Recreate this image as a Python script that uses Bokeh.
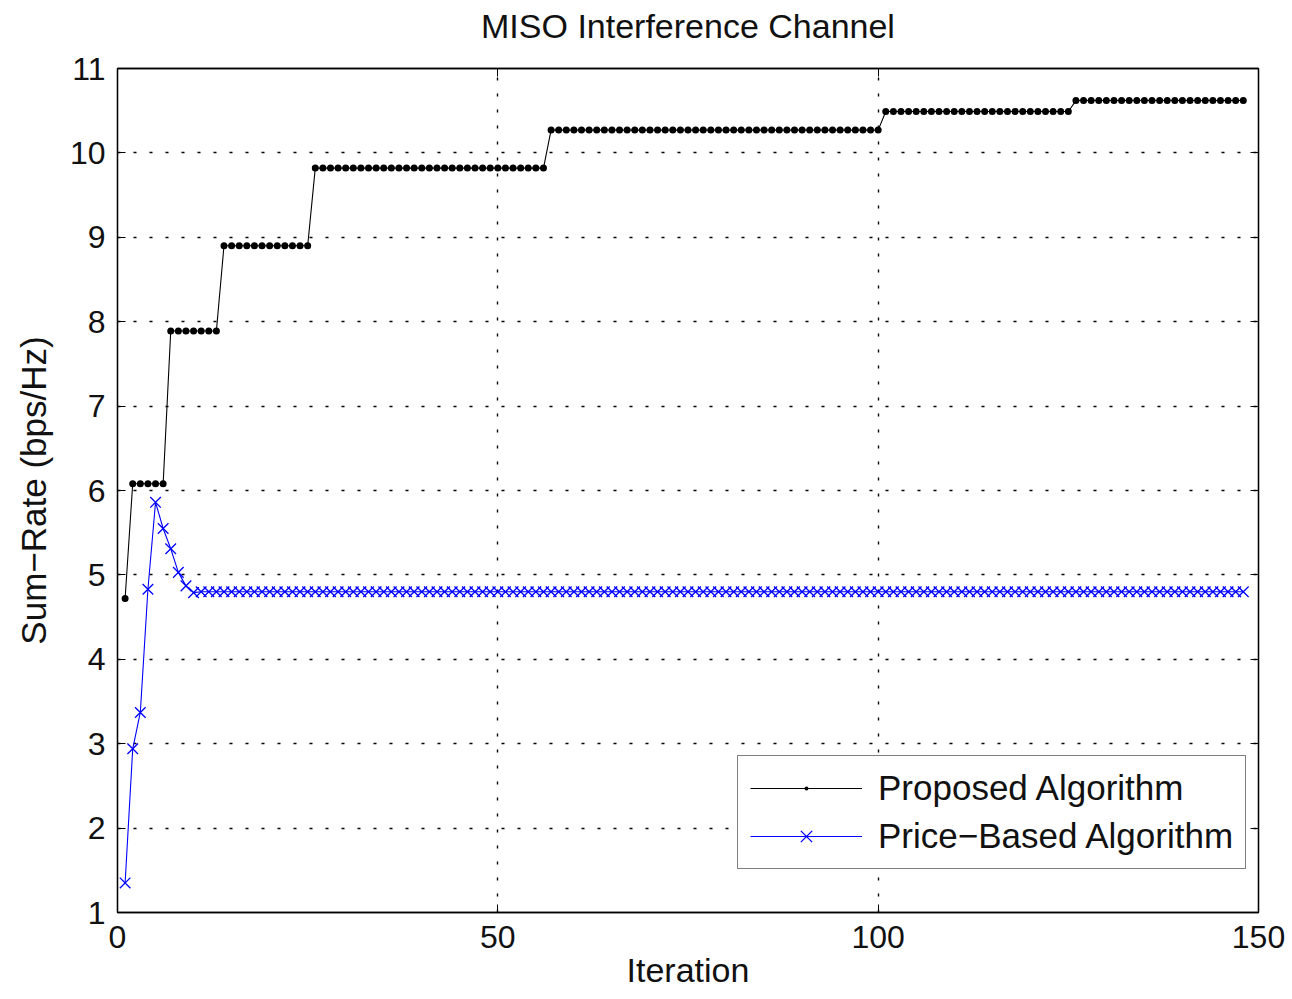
from bokeh.plotting import figure
from bokeh.models import LinearAxis, Range1d, FixedTicker, Legend, LegendItem
from bokeh.embed import file_html
from bokeh.resources import INLINE

# ---- data ----
iterations = list(range(1, 149))
proposed_levels = [4.72, 6.08, 7.89, 8.90, 9.82, 10.27, 10.49, 10.62]
proposed_counts = [1, 5, 7, 12, 31, 44, 25, 23]
proposed = []
for lv, c in zip(proposed_levels, proposed_counts):
    proposed += [lv] * c

price_head = [1.35, 2.94, 3.37, 4.83, 5.86, 5.55, 5.31, 5.03, 4.87, 4.79]
price_tail_value = 4.80
price = price_head + [price_tail_value] * (len(iterations) - len(price_head))

x_ticks = [0, 50, 100, 150]
y_ticks = [1, 2, 3, 4, 5, 6, 7, 8, 9, 10, 11]

title_text = "MISO Interference Channel"
x_label = "Iteration"
y_label = "Sum\u2212Rate (bps/Hz)"

FONT = "Liberation Sans"
TXT = "#111111"

p = figure(width=1292, height=999, output_backend="svg", toolbar_location=None,
           x_range=Range1d(0, 150), y_range=Range1d(1, 11),
           min_border_left=117, min_border_right=34, min_border_top=68, min_border_bottom=87)

p.outline_line_color = "black"
p.outline_line_width = 1.3
p.background_fill_color = "white"
p.border_fill_color = "white"

for ax in [p.xaxis[0], p.yaxis[0]]:
    ax.major_label_text_font = FONT
    ax.major_label_text_font_size = "32px"
    ax.major_label_text_color = TXT
    ax.axis_label_text_font = FONT
    ax.axis_label_text_font_size = "35px"
    ax.axis_label_text_font_style = "normal"
    ax.axis_label_text_color = TXT
    ax.major_tick_in = 8
    ax.major_tick_out = 0
    ax.minor_tick_line_color = None
    ax.axis_line_color = "black"
    ax.axis_line_width = 1.3

p.xaxis[0].ticker = FixedTicker(ticks=x_ticks)
p.yaxis[0].ticker = FixedTicker(ticks=y_ticks)
p.xaxis[0].axis_label = x_label
p.xaxis[0].axis_label_text_font_size = "34px"
p.yaxis[0].axis_label = y_label
p.xaxis[0].major_label_standoff = 13
p.xaxis[0].axis_label_standoff = 0
p.yaxis[0].major_label_standoff = 12
p.yaxis[0].axis_label_standoff = 14

# top axis carries the chart title as its label
top = LinearAxis(ticker=FixedTicker(ticks=x_ticks),
                 major_label_overrides={t: "" for t in x_ticks},
                 major_label_standoff=0,
                 major_tick_in=8, major_tick_out=0, minor_tick_line_color=None,
                 axis_line_width=1.3,
                 axis_label=title_text, axis_label_standoff=24,
                 axis_label_text_font=FONT, axis_label_text_font_size="34px",
                 axis_label_text_font_style="normal", axis_label_text_color=TXT)
right = LinearAxis(ticker=FixedTicker(ticks=y_ticks),
                   major_label_overrides={t: "" for t in y_ticks},
                   major_label_standoff=0,
                   major_tick_in=8, major_tick_out=0, minor_tick_line_color=None,
                   axis_line_width=1.3)
p.add_layout(top, "above")
p.add_layout(right, "right")

p.xgrid.ticker = FixedTicker(ticks=x_ticks)
p.ygrid.ticker = FixedTicker(ticks=y_ticks)
for g in [p.xgrid[0], p.ygrid[0]]:
    g.grid_line_color = "black"
    g.grid_line_dash = "3 13"
    g.grid_line_width = 1.4

l1 = p.line(iterations, proposed, line_color="black", line_width=1.1)
s1 = p.scatter(iterations, proposed, marker="dot", size=28, fill_color="black", line_color="black")
l2 = p.line(iterations, price, line_color="#0000ff", line_width=1.1)
s2 = p.scatter(iterations, price, marker="x", size=15, line_color="#0000ff", line_width=1.3)

legend = Legend(items=[LegendItem(label="Proposed Algorithm", renderers=[l1, s1]),
                       LegendItem(label="Price\u2212Based Algorithm", renderers=[l2, s2])],
                location=(620, 43))
legend.label_text_font = FONT
legend.label_text_font_size = "35px"
legend.label_text_color = TXT
legend.glyph_width = 112
legend.glyph_height = 40
legend.label_height = 40
legend.label_standoff = 16
legend.spacing = 8
legend.padding = 12
legend.margin = 0
legend.border_line_color = "black"
legend.border_line_width = 1.3
legend.background_fill_alpha = 1
p.add_layout(legend, "center")

open("out.html", "w").write(file_html(p, INLINE))
